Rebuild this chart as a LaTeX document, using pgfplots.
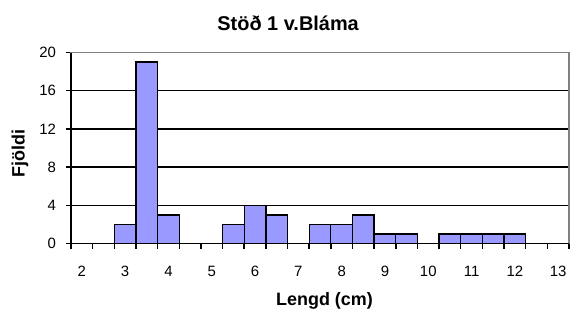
\documentclass[border=0pt]{standalone}
\usepackage{pgfplots}
\pgfplotsset{compat=1.18}
\usepackage{fontspec}
\setmainfont{Liberation Sans}
\definecolor{barblue}{HTML}{9999FF}
\definecolor{frame}{HTML}{808080}
\begin{document}
\begin{tikzpicture}
\path (0,0) rectangle (570bp,311bp);
\begin{axis}[
  at={(71bp,67.5bp)}, anchor=south west,
  scale only axis, width=498bp, height=191bp,
  xmin=1.75, xmax=13.25, ymin=0, ymax=20,
  axis lines=box,
  axis line style={frame, line width=1.6bp},
  xtick={1.75,2.25,...,12.75},
  xticklabels={2,,3,,4,,5,,6,,7,,8,,9,,10,,11,,12,,13},
  minor xtick={13.25},
  xticklabel style={xshift=10.83bp, yshift=-13.5bp},
  ytick={0,4,...,20},
  xtick pos=bottom, ytick pos=left,
  tick align=outside,
  major tick length=5.5bp,
  minor tick length=5.5bp,
  every tick/.style={black, line width=1.5bp},
  ymajorgrids,
  major grid style={black, line width=1.3bp},
  tick label style={font=\fontsize{15}{15}\selectfont},
  /pgf/number format/assume math mode=true,
  yticklabel style={xshift=-6bp},
  title={Stöð 1 v.Bláma},
  title style={font=\bfseries\fontsize{20}{20}\selectfont, at={(axis description cs:0.436,1.124)}, anchor=center},
  xlabel={Lengd (cm)},
  xlabel style={font=\bfseries\fontsize{18}{18}\selectfont, at={(axis description cs:0.509,-0.303)}, anchor=center},
  ylabel={Fjöldi},
  ylabel style={font=\bfseries\fontsize{18}{18}\selectfont, at={(axis description cs:-0.1024,0.469)}, anchor=center},
  after end axis/.code={
    \draw[black, line width=1.6bp] (rel axis cs:0,1) -- (rel axis cs:0,0) -- (rel axis cs:1,0);
  },
]
\addplot[ybar, bar width=0.5, fill=barblue, draw=black, line width=1.3bp] coordinates {
  (3,2) (3.5,19) (4,3)
  (5.5,2) (6,4) (6.5,3)
  (7.5,2) (8,2) (8.5,3) (9,1) (9.5,1)
  (10.5,1) (11,1) (11.5,1) (12,1)
};
\end{axis}
\end{tikzpicture}
\end{document}
